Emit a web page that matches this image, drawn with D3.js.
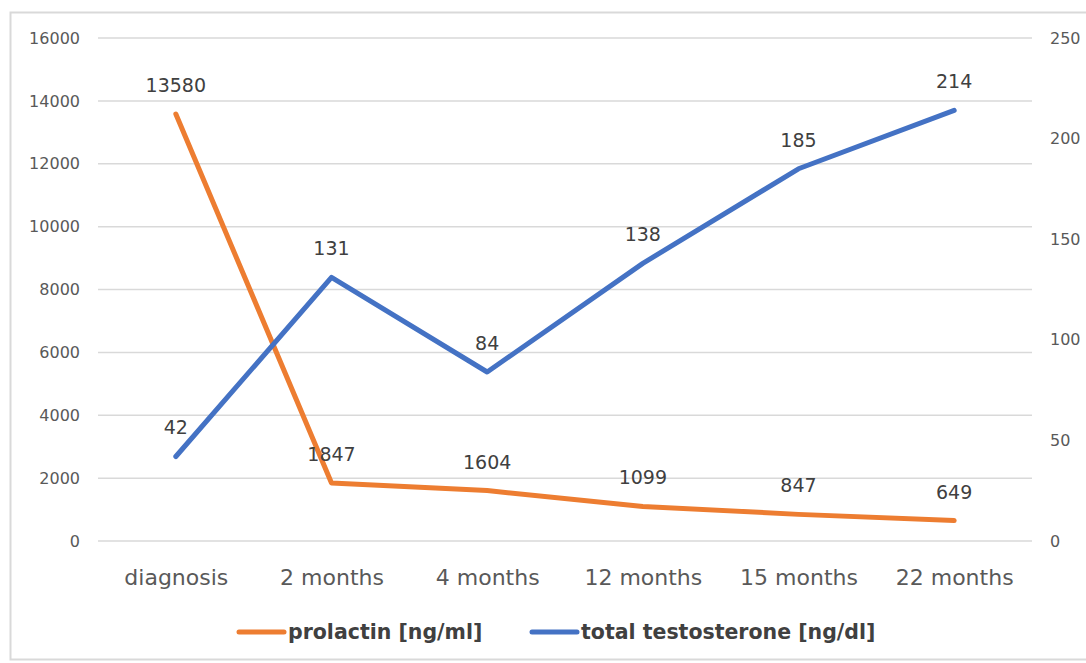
<!DOCTYPE html>
<html><head><meta charset="utf-8">
<script src="https://cdn.jsdelivr.net/npm/d3@7"></script>
<style>body{margin:0;background:#fff;} svg{display:block;font-family:"DejaVu Sans",sans-serif;}</style>
</head><body>
<svg id="c" width="1086" height="663"></svg>
<script>
const categories = ["diagnosis","2 months","4 months","12 months","15 months","22 months"];
const prolactin = [13580,1847,1604,1099,847,649];
const testosterone = [42,131,84,138,185,214];
const leftTicks = [0,2000,4000,6000,8000,10000,12000,14000,16000];
const rightTicks = [0,50,100,150,200,250];
const seriesNames = ["prolactin [ng/ml]","total testosterone [ng/dl]"];
const colors = ["#ED7D31","#4472C4"];
const FONT = "'DejaVu Sans',sans-serif";

const svg = d3.select("#c");
svg.append("rect").attr("x",10.5).attr("y",12.5).attr("width",1090).attr("height",647)
  .attr("fill","none").attr("stroke","#d9d9d9").attr("stroke-width",2);

const x = d3.scalePoint().domain(categories).range([98,1032]).padding(0.5);
const yL = d3.scaleLinear().domain([0,16000]).range([541,38]);
const yR = d3.scaleLinear().domain([0,250]).range([541,38]);

// gridlines
svg.append("g").selectAll("line").data(leftTicks).join("line")
  .attr("x1",98).attr("x2",1032).attr("y1",d=>yL(d)).attr("y2",d=>yL(d))
  .attr("stroke","#d9d9d9").attr("stroke-width",1.5);

const gl = svg.append("g").attr("transform","translate(80,0)")
  .call(d3.axisLeft(yL).tickValues(leftTicks).tickSize(0).tickPadding(0).tickFormat(d3.format("d")));
gl.select(".domain").remove();
gl.selectAll("text").attr("fill","#595959").style("font-size","16px").style("font-family",FONT);

const gr = svg.append("g").attr("transform","translate(1050,0)")
  .call(d3.axisRight(yR).tickValues(rightTicks).tickSize(0).tickPadding(0).tickFormat(d3.format("d")));
gr.select(".domain").remove();
gr.selectAll("text").attr("fill","#595959").style("font-size","16px").style("font-family",FONT);

const gx = svg.append("g").attr("transform","translate(0,569)")
  .call(d3.axisBottom(x).tickSize(0).tickPadding(0));
gx.select(".domain").remove();
gx.selectAll("text").attr("fill","#595959").style("font-size","22px").style("font-family",FONT);

const line = (ys) => d3.line().x((d,i)=>x(categories[i])).y(d=>ys(d));
svg.append("path").datum(prolactin).attr("d",line(yL)).attr("fill","none")
  .attr("stroke",colors[0]).attr("stroke-width",5).attr("stroke-linecap","round").attr("stroke-linejoin","round");
svg.append("path").datum(testosterone).attr("d",line(yR)).attr("fill","none")
  .attr("stroke",colors[1]).attr("stroke-width",5).attr("stroke-linecap","round").attr("stroke-linejoin","round");

const lab = (data, ys) => svg.append("g").selectAll("text").data(data).join("text")
  .attr("x",(d,i)=>x(categories[i])).attr("y",d=>ys(d)-22)
  .attr("text-anchor","middle").attr("fill","#404040").style("font-size","19px").text(d=>d);
lab(prolactin,yL);
lab(testosterone,yR);

// legend
const lg = svg.append("g");
const items = [{x:237,name:seriesNames[0],c:colors[0]},{x:530,name:seriesNames[1],c:colors[1]}];
items.forEach(it=>{
  lg.append("line").attr("x1",it.x+2).attr("x2",it.x+47).attr("y1",632).attr("y2",632)
    .attr("stroke",it.c).attr("stroke-width",5).attr("stroke-linecap","round");
  lg.append("text").attr("x",it.x+51).attr("y",639).attr("fill","#404040")
    .style("font-size","20.5px").style("font-weight","bold").text(it.name);
});
</script>
</body></html>
